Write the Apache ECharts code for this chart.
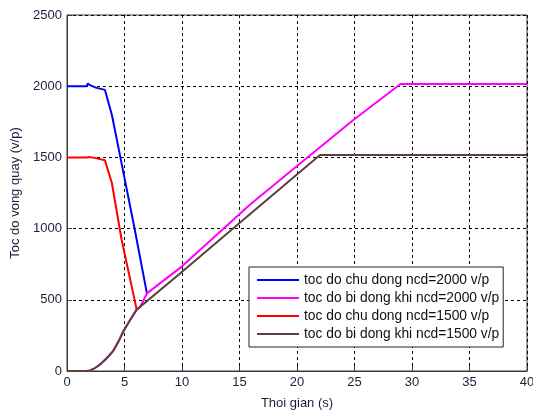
<!DOCTYPE html>
<html>
<head>
<meta charset="utf-8">
<script src="https://cdn.jsdelivr.net/npm/echarts@6/dist/echarts.min.js"></script>
<style>
  html, body { margin: 0; padding: 0; background: #fff; }
  #chart { width: 533px; height: 410px; }
</style>
</head>
<body>
<div id="chart"></div>
<script>
// du lieu doc tu hinh
const tenDuong = [
  'toc do chu dong ncd=2000 v/p',
  'toc do bi dong khi ncd=2000 v/p',
  'toc do chu dong ncd=1500 v/p',
  'toc do bi dong khi ncd=1500 v/p'
]
const mauDuong = ['#0000ff', '#ff00ff', '#ff0000', '#5c3f3f']

const chu2000T = [0, 1.7, 1.8, 2.0, 2.5, 3.3, 3.9, 4.6, 5.9, 6.95]
const chu2000V = [2000, 2000, 2018, 2008, 1990, 1974, 1800, 1518, 990, 545]

const bi2000T = [0, 1.7, 2.0, 2.3, 2.6, 2.9, 3.2, 3.6, 4.0, 4.5, 4.9, 5.5, 6.06, 6.35, 6.95, 10, 15.9, 20, 24.9, 29.0, 40]
const bi2000V = [0, 0, 4, 14, 30, 48, 70, 102, 139, 210, 279, 360, 431, 448, 545, 735, 1167, 1440, 1763, 2016, 2016]

const chu1500T = [0, 1.7, 1.8, 2.0, 2.5, 3.3, 3.9, 4.75, 6.06]
const chu1500V = [1500, 1500, 1510, 1502, 1495, 1480, 1320, 922, 431]

const bi1500T = [0, 1.7, 2.0, 2.3, 2.6, 2.9, 3.2, 3.6, 4.0, 4.5, 4.9, 5.5, 6.06, 9.83, 15, 22.0, 40]
const bi1500V = [0, 0, 4, 14, 30, 48, 70, 102, 139, 210, 279, 360, 431, 685, 1040, 1517, 1517]

const duLieu = [
  [chu2000T, chu2000V],
  [bi2000T, bi2000V],
  [chu1500T, chu1500V],
  [bi1500T, bi1500V]
]

const chart = echarts.init(document.getElementById('chart'))

const series = duLieu.map((d, i) => ({
  name: tenDuong[i],
  type: 'line',
  data: d[0].map((t, k) => [t, d[1][k]]),
  symbol: 'none',
  lineStyle: { color: mauDuong[i], width: 2 },
  itemStyle: { color: mauDuong[i] }
}))

const chuTruc = { color: '#1e1e3c', fontFamily: 'Liberation Sans, Arial', fontSize: 13 }

chart.setOption({
  animation: false,
  backgroundColor: '#fff',
  grid: {
    left: 67, right: 6, top: 15, bottom: 39,
    containLabel: false,
    outerBoundsMode: 'none',
    show: true, borderColor: '#3a3a3a', borderWidth: 1
  },
  legend: {
    orient: 'vertical',
    left: 249, top: 267,
    padding: [6, 4, 6, 8],
    itemGap: 4,
    itemWidth: 42,
    itemHeight: 2,
    icon: 'rect',
    backgroundColor: '#fff',
    borderColor: '#222',
    borderWidth: 1,
    borderRadius: 0,
    textStyle: { color: '#111', fontFamily: 'Liberation Sans, Arial', fontSize: 13.8 },
    data: tenDuong
  },
  xAxis: {
    type: 'value',
    min: 0, max: 40, interval: 5,
    name: 'Thoi gian (s)',
    nameLocation: 'middle',
    nameGap: 26,
    nameTextStyle: chuTruc,
    axisLine: { show: true, lineStyle: { color: '#3a3a3a' } },
    axisTick: { show: true, inside: true, length: 5, lineStyle: { color: '#3a3a3a' } },
    axisLabel: Object.assign({ margin: 5 }, chuTruc),
    splitLine: { show: true, lineStyle: { color: '#000', type: [3, 3], width: 1 } }
  },
  yAxis: {
    type: 'value',
    min: 0, max: 2500, interval: 500,
    name: 'Toc do vong quay (v/p)',
    nameLocation: 'middle',
    nameGap: 44,
    nameTextStyle: chuTruc,
    axisLine: { show: true, lineStyle: { color: '#3a3a3a' } },
    axisTick: { show: true, inside: true, length: 5, lineStyle: { color: '#3a3a3a' } },
    axisLabel: Object.assign({ margin: 5, formatter: v => String(v) }, chuTruc),
    splitLine: { show: true, lineStyle: { color: '#000', type: [3, 3], width: 1 } }
  },
  series: series
})
</script>
</body>
</html>
